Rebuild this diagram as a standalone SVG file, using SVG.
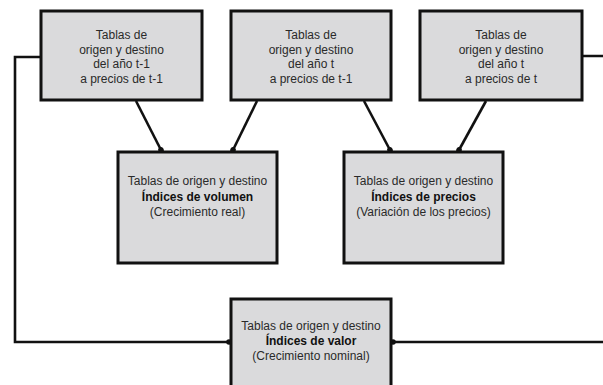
<svg xmlns="http://www.w3.org/2000/svg" width="603" height="385" viewBox="0 0 603 385">
  <style>
    .box { fill: #dadadc; stroke: #111; stroke-width: 3; }
    .lbl { font-family: "Liberation Sans", Arial, sans-serif; font-size: 12px; fill: #2a2a2a; text-anchor: middle; }
    .b { font-weight: bold; fill: #111; }
    .link { fill: none; stroke: #111; stroke-width: 2.6; marker-end: url(#dot); }
  </style>
  <defs>
    <marker id="dot" viewBox="-4 -4 8 8" markerWidth="8" markerHeight="8" refX="0" refY="0" markerUnits="userSpaceOnUse" orient="auto">
      <circle cx="0" cy="0" r="2.8" fill="#111"/>
    </marker>
  </defs>

  <g id="connectors">
    <path class="link" d="M136,101 L161,150"/>
    <path class="link" d="M257,101 L233,150"/>
    <path class="link" d="M364,101 L390,150"/>
    <path class="link" d="M486,101 L459,150"/>
    <path class="link" d="M41,57 H15 V342 H229"/>
    <path class="link" d="M582,56 H612 V342 H393"/>
  </g>

  <g id="n_t1_t1">
    <rect class="box" x="41" y="11" width="161" height="89"/>
    <text class="lbl" x="121.5" y="39">Tablas de</text>
    <text class="lbl" x="121.5" y="53.5">origen y destino</text>
    <text class="lbl" x="121.5" y="68">del año t-1</text>
    <text class="lbl" x="121.5" y="82.5">a precios de t-1</text>
  </g>

  <g id="n_t_t1">
    <rect class="box" x="231" y="11" width="160" height="89"/>
    <text class="lbl" x="311" y="39">Tablas de</text>
    <text class="lbl" x="311" y="53.5">origen y destino</text>
    <text class="lbl" x="311" y="68">del año t</text>
    <text class="lbl" x="311" y="82.5">a precios de t-1</text>
  </g>

  <g id="n_t_t">
    <rect class="box" x="420" y="11" width="162" height="89"/>
    <text class="lbl" x="501" y="39">Tablas de</text>
    <text class="lbl" x="501" y="53.5">origen y destino</text>
    <text class="lbl" x="501" y="68">del año t</text>
    <text class="lbl" x="501" y="82.5">a precios de t</text>
  </g>

  <g id="n_volumen">
    <rect class="box" x="118" y="152" width="159" height="111"/>
    <text class="lbl" x="197.5" y="185">Tablas de origen y destino</text>
    <text class="lbl b" x="197.5" y="200.5">Índices de volumen</text>
    <text class="lbl" x="197.5" y="216">(Crecimiento real)</text>
  </g>

  <g id="n_precios">
    <rect class="box" x="344" y="152" width="159" height="111"/>
    <text class="lbl" x="423.5" y="185">Tablas de origen y destino</text>
    <text class="lbl b" x="423.5" y="200.5">Índices de precios</text>
    <text class="lbl" x="423.5" y="216">(Variación de los precios)</text>
  </g>

  <g id="n_valor">
    <rect class="box" x="231" y="299" width="160" height="100"/>
    <text class="lbl" x="311" y="330">Tablas de origen y destino</text>
    <text class="lbl b" x="311" y="345">Índices de valor</text>
    <text class="lbl" x="311" y="360">(Crecimiento nominal)</text>
  </g>
</svg>
